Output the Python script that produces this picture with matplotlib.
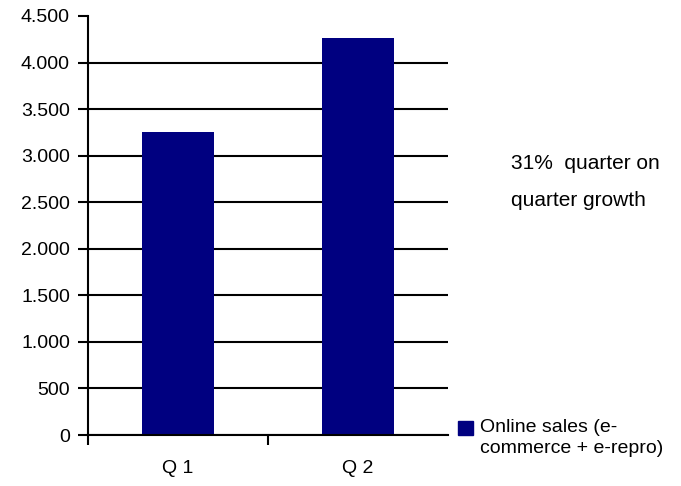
import numpy as np
import matplotlib.pyplot as plt
from matplotlib.ticker import FuncFormatter, FixedLocator

quarters = ['Q 1', 'Q 2']
online_sales = [3250, 4260]
series_label = 'Online sales (e-\ncommerce + e-repro)'
note_lines = ['31%  quarter on', 'quarter growth']

plt.rcParams['font.family'] = ['Liberation Sans Narrow', 'Liberation Sans', 'DejaVu Sans']

fig = plt.figure(figsize=(6.81, 4.86), dpi=100)
ax = fig.add_axes([88 / 681, 51 / 486, 360 / 681, 419 / 486])

x = np.arange(len(quarters))
ax.bar(x, online_sales, width=0.4, color='#000080', zorder=3)

ax.set_xlim(-0.5, len(quarters) - 0.5)
ax.set_ylim(0, 4500)
ax.set_yticks(np.arange(0, 4501, 500))
ax.yaxis.set_major_formatter(FuncFormatter(lambda v, p: f'{int(v):,}'.replace(',', '.')))
ax.grid(axis='y', color='black', linewidth=1.5, zorder=1)
ax.yaxis.get_gridlines()[-1].set_visible(False)

# category boundaries as ticks, labels in the middle
ax.xaxis.set_major_locator(FixedLocator([-0.5, 0.5]))
ax.xaxis.set_major_formatter(FuncFormatter(lambda v, p: ''))
ax.xaxis.set_minor_locator(FixedLocator(x))
ax.set_xticklabels(quarters, minor=True)
ax.tick_params(axis='x', which='major', length=7, width=1.5, direction='out')
ax.tick_params(axis='x', which='minor', length=0, pad=18, labelsize=14)
ax.tick_params(axis='y', length=7, width=1.5, direction='out', labelsize=14, pad=6)

for s in ['top', 'right']:
    ax.spines[s].set_visible(False)
for s in ['left', 'bottom']:
    ax.spines[s].set_linewidth(1.5)
ax.spines['bottom'].set_zorder(4)

fig.text(511 / 681, 1 - 163 / 486, note_lines[0], fontsize=15, va='center', ha='left')
fig.text(511 / 681, 1 - 200 / 486, note_lines[1], fontsize=15, va='center', ha='left')

# legend
fig.patches.append(plt.Rectangle((458 / 681, 1 - 435 / 486), 15 / 681, 14 / 486,
                                 transform=fig.transFigure, color='#000080'))
fig.text(480 / 681, 1 - 438 / 486, series_label, fontsize=14, va='center', ha='left',
         linespacing=1.35)

fig.savefig('out.png', dpi=100)
